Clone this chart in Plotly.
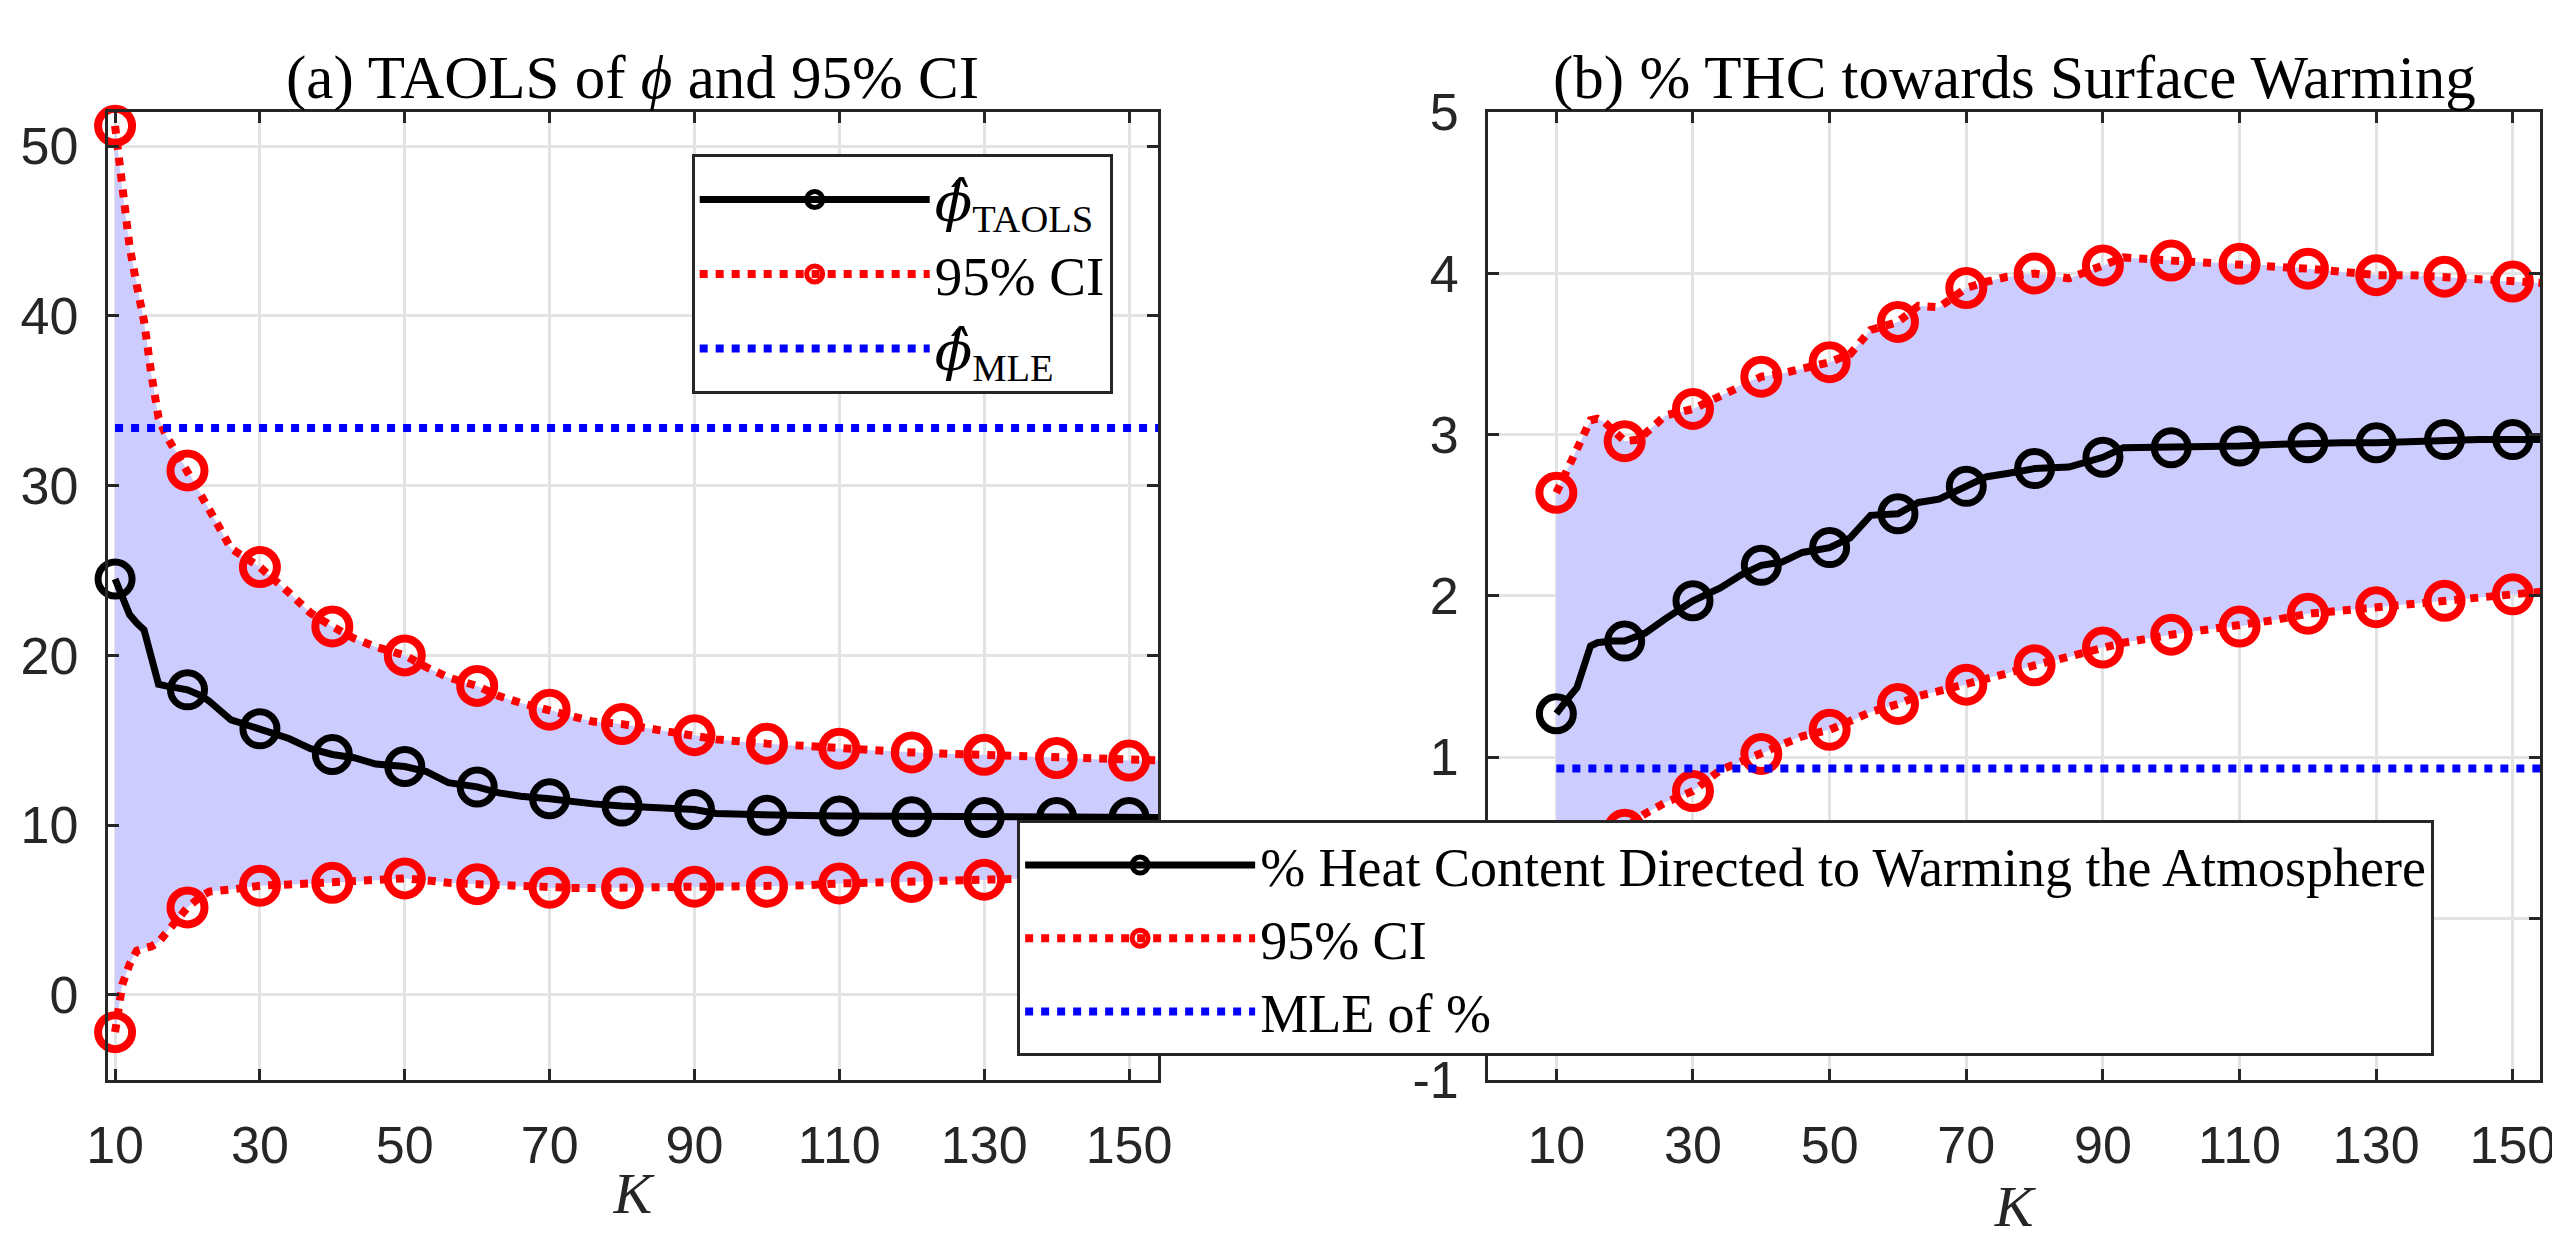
import plotly.graph_objects as go

# ---------------- data ----------------
K = [10, 11, 12, 13, 14, 15, 16, 17, 18, 20, 22, 23, 26, 30, 34, 37, 40, 43, 46, 50,
     53, 56, 60, 63, 66, 70, 73, 76, 80, 85, 90, 93, 100, 105, 110, 115, 120, 125,
     130, 135, 140, 145, 150, 155]

# Panel (a): TAOLS of phi and 95% CI
phi_taols = [24.5, 23.3, 22.4, 21.9, 21.5, 19.9, 18.3, 18.2, 18.1, 17.97, 17.6, 17.3, 16.2,
             15.67, 15.1, 14.5, 14.16, 13.97, 13.6, 13.45, 13.15, 12.5, 12.25, 11.9, 11.7,
             11.55, 11.35, 11.25, 11.12, 11.0, 10.92, 10.68, 10.58, 10.56, 10.54, 10.52,
             10.49, 10.47, 10.45, 10.45, 10.45, 10.45, 10.45, 10.45]
phi_upper = [51.2, 47.4, 44.1, 41.8, 39.7, 36.6, 34.0, 33.0, 32.3, 30.9, 29.4, 28.6, 26.3,
             25.2, 23.7, 22.5, 21.7, 21.0, 20.5, 20.0, 19.3, 18.7, 18.2, 17.6, 17.2, 16.8,
             16.4, 16.1, 15.95, 15.6, 15.3, 15.05, 14.8, 14.65, 14.5, 14.4, 14.28, 14.2,
             14.14, 14.05, 13.95, 13.88, 13.8, 13.8]
phi_lower = [-2.2, 0.6, 1.8, 2.6, 2.75, 2.85, 3.1, 3.65, 4.2, 5.15, 5.85, 6.08, 6.2, 6.43,
             6.5, 6.55, 6.6, 6.65, 6.75, 6.86, 6.75, 6.6, 6.52, 6.45, 6.38, 6.31, 6.3, 6.29,
             6.28, 6.32, 6.37, 6.37, 6.37, 6.45, 6.56, 6.6, 6.65, 6.72, 6.78, 6.85, 6.9,
             6.95, 7.0, 7.0]
phi_mle = 33.4

# Panel (b): % THC towards surface warming
pct_mean = [1.27, 1.33, 1.38, 1.43, 1.55, 1.69, 1.71, 1.72, 1.72, 1.72, 1.75, 1.77, 1.86,
            1.97, 2.05, 2.13, 2.19, 2.21, 2.27, 2.30, 2.36, 2.50, 2.51, 2.58, 2.60, 2.68,
            2.74, 2.76, 2.79, 2.80, 2.86, 2.92, 2.92, 2.93, 2.93, 2.94, 2.95, 2.95, 2.95,
            2.96, 2.97, 2.97, 2.97, 2.97]
pct_upper = [2.64, 2.73, 2.82, 2.91, 3.0, 3.09, 3.1, 3.08, 3.04, 2.96, 2.97, 3.01, 3.12,
             3.16, 3.24, 3.31, 3.36, 3.38, 3.41, 3.45, 3.5, 3.65, 3.70, 3.8, 3.79, 3.91,
             3.95, 3.98, 4.0, 3.97, 4.05, 4.1, 4.08, 4.07, 4.06, 4.05, 4.03, 4.01, 3.99,
             3.99, 3.98, 3.96, 3.95, 3.94]
pct_lower = [-0.05, 0.05, 0.13, 0.2, 0.28, 0.35, 0.42, 0.47, 0.5, 0.55, 0.62, 0.65, 0.72,
             0.79, 0.92, 0.97, 1.02, 1.08, 1.13, 1.17, 1.22, 1.28, 1.33, 1.38, 1.41, 1.45,
             1.49, 1.52, 1.57, 1.62, 1.68, 1.71, 1.76, 1.79, 1.81, 1.85, 1.89, 1.91, 1.93,
             1.95, 1.97, 1.99, 2.01, 2.03]
pct_mle = 0.93

marker_K = [10, 20, 30, 40, 50, 60, 70, 80, 90, 100, 110, 120, 130, 140, 150]
x_ticks = [10, 30, 50, 70, 90, 110, 130, 150]
y_ticks_a = [0, 10, 20, 30, 40, 50]
y_ticks_b = [-1, 0, 1, 2, 3, 4, 5]
y_ticktext_b = ["-1", "", "1", "2", "3", "4", "5"]   # the 0 label is hidden behind the legend

PHI_HAT = "<span style=\"font-family:'DejaVu Serif';font-style:italic\">ϕ̂</span>"
titles = ["(a) TAOLS of <i>ϕ</i> and 95% CI", "(b) % THC towards Surface Warming"]
legend_a = [PHI_HAT + "<sub>TAOLS</sub>", "95% CI", PHI_HAT + "<sub>MLE</sub>"]
legend_b = ["% Heat Content Directed to Warming the Atmosphere", "95% CI", "MLE of %"]

# ---------------- style ----------------
W, H = 2560, 1236
AX = "#262626"
GRID = "#e3e3e3"
FILL = "#ccccff"
SERIF = "Liberation Serif"
SANS = "Liberation Sans"


def gapped(xs, ys):
    gx, gy = [], []
    for k, v in zip(xs, ys):
        if k in marker_K:
            gx += [k, None]
            gy += [v, None]
    return gx, gy


fig = go.Figure()


def add_panel(xa, ya, mean, upper, lower, mle, names, legend):
    # shaded CI band
    fig.add_trace(go.Scatter(x=K + K[::-1], y=upper + lower[::-1], fill="toself",
                             fillcolor=FILL, mode="lines", line=dict(width=0),
                             showlegend=False, hoverinfo="skip", xaxis=xa, yaxis=ya))
    black = dict(color="black", width=7)
    red = dict(color="red", width=8, dash="dot")
    fig.add_trace(go.Scatter(x=K, y=mean, mode="lines", line=black, showlegend=False,
                             xaxis=xa, yaxis=ya))
    fig.add_trace(go.Scatter(x=K, y=upper, mode="lines", line=red, showlegend=False,
                             xaxis=xa, yaxis=ya))
    fig.add_trace(go.Scatter(x=K, y=lower, mode="lines", line=red, showlegend=False,
                             xaxis=xa, yaxis=ya))
    mx, my = gapped(K, mean)
    fig.add_trace(go.Scatter(x=mx, y=my, mode="lines+markers", line=black, name=names[0],
                             marker=dict(symbol="circle-open", size=34, color="black",
                                         line=dict(width=7, color="black")),
                             cliponaxis=False, legend=legend, xaxis=xa, yaxis=ya))
    ux, uy = gapped(K, upper)
    fig.add_trace(go.Scatter(x=ux, y=uy, mode="lines+markers", line=red, name=names[1],
                             marker=dict(symbol="circle-open", size=34, color="red",
                                         line=dict(width=8, color="red")),
                             cliponaxis=False, legend=legend, xaxis=xa, yaxis=ya))
    lx, ly = gapped(K, lower)
    fig.add_trace(go.Scatter(x=lx, y=ly, mode="lines+markers", line=red, showlegend=False,
                             marker=dict(symbol="circle-open", size=34, color="red",
                                         line=dict(width=8, color="red")),
                             cliponaxis=False, xaxis=xa, yaxis=ya))
    fig.add_trace(go.Scatter(x=[K[0], K[-1]], y=[mle, mle], mode="lines", name=names[2],
                             line=dict(color="blue", width=8, dash="dot"),
                             legend=legend, xaxis=xa, yaxis=ya))


add_panel("x", "y", phi_taols, phi_upper, phi_lower, phi_mle, legend_a, "legend")
add_panel("x2", "y2", pct_mean, pct_upper, pct_lower, pct_mle, legend_b, "legend2")

yd = [1 - 1094 / H, 1 - 79 / H]
common = dict(showline=True, linecolor=AX, linewidth=3, mirror="ticks", ticks="inside",
              ticklen=11, tickwidth=3, tickcolor=AX, showgrid=True, gridcolor=GRID,
              gridwidth=3, zeroline=False,
              tickfont=dict(family=SANS, size=52, color=AX))
xtitle = dict(text="<i>K</i>", font=dict(family=SERIF, size=58, color=AX), standoff=0)

fig.update_layout(
    width=W, height=H, margin=dict(l=0, r=0, t=0, b=0),
    plot_bgcolor="white", paper_bgcolor="white",
    xaxis=dict(domain=[79 / W, 1145 / W], range=[9, 154], tickvals=x_ticks,
               title=xtitle, ticklabelstandoff=18, **common),
    yaxis=dict(domain=yd, range=[-5, 52], tickvals=y_ticks_a, ticklabelstandoff=16,
               **common),
    xaxis2=dict(domain=[1480 / W, 2548 / W], range=[0, 154], tickvals=x_ticks,
                title=xtitle, ticklabelstandoff=18, anchor="y2", **common),
    yaxis2=dict(domain=yd, range=[-1, 5], tickvals=y_ticks_b, ticktext=y_ticktext_b,
                ticklabelstandoff=16, anchor="x2", **common),
    legend=dict(x=1099 / W, xanchor="right", y=1 - 123 / H, yanchor="top",
                bgcolor="white", bordercolor=AX, borderwidth=3, itemwidth=230,
                font=dict(family=SERIF, size=55, color="black")),
    legend2=dict(x=1002 / W, xanchor="left", y=1 - 822 / H, yanchor="top",
                 bgcolor="white", bordercolor=AX, borderwidth=3, itemwidth=230,
                 font=dict(family=SERIF, size=54, color="black")),
)

centers = [(79 + 1145) / 2 / W, (1480 + 2548) / 2 / W]
for c, t in zip(centers, titles):
    fig.add_annotation(x=c, y=1 - 43 / H, xref="paper", yref="paper", text=t,
                       showarrow=False, xanchor="center", yanchor="middle",
                       font=dict(family=SERIF, size=61, color="black"))

fig.write_html("out.html")
